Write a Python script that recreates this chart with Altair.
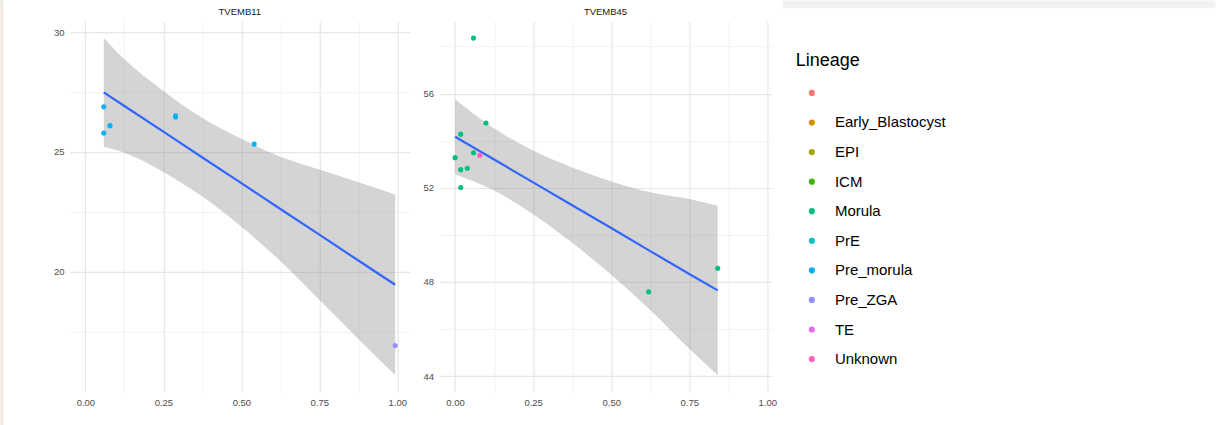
import altair as alt
import pandas as pd

# ---------------- data ----------------
LINEAGES = ["", "Early_Blastocyst", "EPI", "ICM", "Morula", "PrE",
            "Pre_morula", "Pre_ZGA", "TE", "Unknown"]
LINEAGE_COLORS = ["#F8766D", "#D89000", "#A3A500", "#39B600", "#00BF7D",
                  "#00BFC4", "#00B0F6", "#9590FF", "#E76BF3", "#FF62BC"]

# TVEMB11
E11_X = [0.059, 0.059, 0.079, 0.289, 0.289, 0.541, 0.993]
E11_Y = [26.89, 25.79, 26.10, 26.51, 26.46, 25.33, 16.92]
E11_LINEAGE = ["Pre_morula"] * 6 + ["Pre_ZGA"]
E11_FIT_X = [0.059, 0.125, 0.25, 0.375, 0.5, 0.625, 0.75, 0.875, 0.993]
E11_FIT_Y = [27.49, 26.92, 25.85, 24.77, 23.70, 22.62, 21.55, 20.47, 19.46]
E11_LOWER = [25.22, 24.97, 24.17, 23.14, 21.88, 20.45, 18.83, 17.20, 15.69]
E11_UPPER = [29.76, 28.87, 27.55, 26.42, 25.55, 24.80, 24.27, 23.74, 23.23]

# TVEMB45
E45_X = [0.059, 0.099, 0.018, 0.0, 0.059, 0.079, 0.018, 0.039, 0.018, 0.620, 0.841]
E45_Y = [58.36, 54.75, 54.28, 53.28, 53.49, 53.38, 52.77, 52.83, 52.01, 47.58, 48.58]
E45_LINEAGE = ["Morula"] * 5 + ["Unknown"] + ["Morula"] * 5
E45_FIT_X = [0.0, 0.125, 0.25, 0.375, 0.5, 0.625, 0.75, 0.841]
E45_FIT_Y = [54.17, 53.20, 52.23, 51.26, 50.29, 49.31, 48.34, 47.64]
E45_LOWER = [52.58, 51.88, 50.88, 49.66, 48.31, 46.81, 45.16, 44.04]
E45_UPPER = [55.76, 54.52, 53.58, 52.86, 52.27, 51.81, 51.52, 51.24]

# axis ticks (major + minor grid positions)
X_TICKS = [0, 0.125, 0.25, 0.375, 0.5, 0.625, 0.75, 0.875, 1.0]
E11_Y_TICKS = [17.5, 20, 22.5, 25, 27.5, 30]
E45_Y_TICKS = [44, 46, 48, 50, 52, 54, 56, 58]

PANEL_NAMES = ["TVEMB11", "TVEMB45"]

FONT = "Liberation Sans"
PLOT_H = 371


def axis(values, major_test, fmt):
    return alt.Axis(
        values=values,
        labelExpr=f"({major_test}) ? format(datum.value, '{fmt}') : ''",
        grid=True,
        gridColor={"condition": {"test": major_test, "value": "#e6e6e6"}, "value": "#efefef"},
        gridWidth={"condition": {"test": major_test, "value": 1.2}, "value": 0.8},
        domain=False, ticks=False, tickSize=0,
        labelPadding=6, labelFont=FONT, labelFontSize=9.5, labelColor="#4d4d4d",
        labelOverlap=False, labelFlush=False, title=None,
    )


X_MAJOR = "abs(datum.value * 4 - round(datum.value * 4)) < 0.001"

color_enc = alt.Color(
    "lineage:N",
    scale=alt.Scale(domain=LINEAGES, range=LINEAGE_COLORS),
    legend=alt.Legend(
        title="Lineage", orient="none", legendX=726.4, legendY=31.3,
        titleFont=FONT, titleFontSize=18, titleFontWeight="normal", titleColor="#000000",
        titlePadding=15, labelFont=FONT, labelFontSize=15, labelColor="#000000",
        symbolType="circle", symbolSize=38, symbolStrokeWidth=0, symbolOpacity=1,
        symbolOffset=8.6, labelOffset=15.6, rowPadding=13.6, padding=0,
    ),
)


def panel(name, xs, ys, lineage, fx, fy, lo, hi, x_domain, y_domain,
          y_ticks, y_major, width, deco):
    pts = pd.DataFrame({"x": xs, "y": ys, "lineage": lineage})
    fit = pd.DataFrame({"x": fx, "fit": fy, "lower": lo, "upper": hi})

    x_enc = alt.X("x:Q", scale=alt.Scale(domain=x_domain, nice=False, zero=False),
                  axis=axis(X_TICKS, X_MAJOR, ".2f"))
    y_scale = alt.Scale(domain=y_domain, nice=False, zero=False)
    y_axis = axis(y_ticks, y_major, "d")

    band = alt.Chart(fit).mark_area(color="#999999", opacity=0.42, interpolate="monotone").encode(
        x=x_enc, y=alt.Y("lower:Q", scale=y_scale, axis=y_axis), y2="upper:Q")
    line = alt.Chart(fit).mark_line(color="#3366FF", strokeWidth=2.2).encode(
        x=x_enc, y=alt.Y("fit:Q", scale=y_scale, axis=y_axis))
    dots = alt.Chart(pts).mark_circle(size=26, opacity=1).encode(
        x=x_enc, y=alt.Y("y:Q", scale=y_scale, axis=y_axis), color=color_enc)
    # strip title above the panel
    heading = alt.Chart(pd.DataFrame({"k": [0]})).mark_text(
        font=FONT, fontSize=9.5, color="#1a1a1a", align="center", baseline="middle"
    ).encode(x=alt.value(width / 2), y=alt.value(-8.7), text=alt.value(name))

    return alt.layer(deco, band, line, dots, heading).properties(width=width, height=PLOT_H)


one = pd.DataFrame({"k": [0]})
# page-edge accents around the figure
left_deco = alt.Chart(one).mark_rect(color="#ece8dc").encode(
    x=alt.value(-69.6), x2=alt.value(-66.8), y=alt.value(-20.7), y2=alt.value(404.3))
right_deco = alt.Chart(one).mark_rect(color="#f2f2f2").encode(
    x=alt.value(343.5), x2=alt.value(776.5), y=alt.value(-20.7), y2=alt.value(-12.8))

left = panel(PANEL_NAMES[0], E11_X, E11_Y, E11_LINEAGE, E11_FIT_X, E11_FIT_Y, E11_LOWER, E11_UPPER,
             [-0.0495, 1.0395], [14.99, 30.46], E11_Y_TICKS, "datum.value % 5 == 0", 340, left_deco)
right = panel(PANEL_NAMES[1], E45_X, E45_Y, E45_LINEAGE, E45_FIT_X, E45_FIT_Y, E45_LOWER, E45_UPPER,
              [-0.0495, 1.0129], [43.33, 59.08], E45_Y_TICKS, "datum.value % 4 == 0", 332, right_deco)

chart = alt.hconcat(left, right, spacing=13).properties(
    padding={"left": 0, "top": 0, "right": 0, "bottom": 0},
    background="white",
).configure_view(stroke=None)

chart.save("out.html", embed_options={"renderer": "svg", "actions": False})
